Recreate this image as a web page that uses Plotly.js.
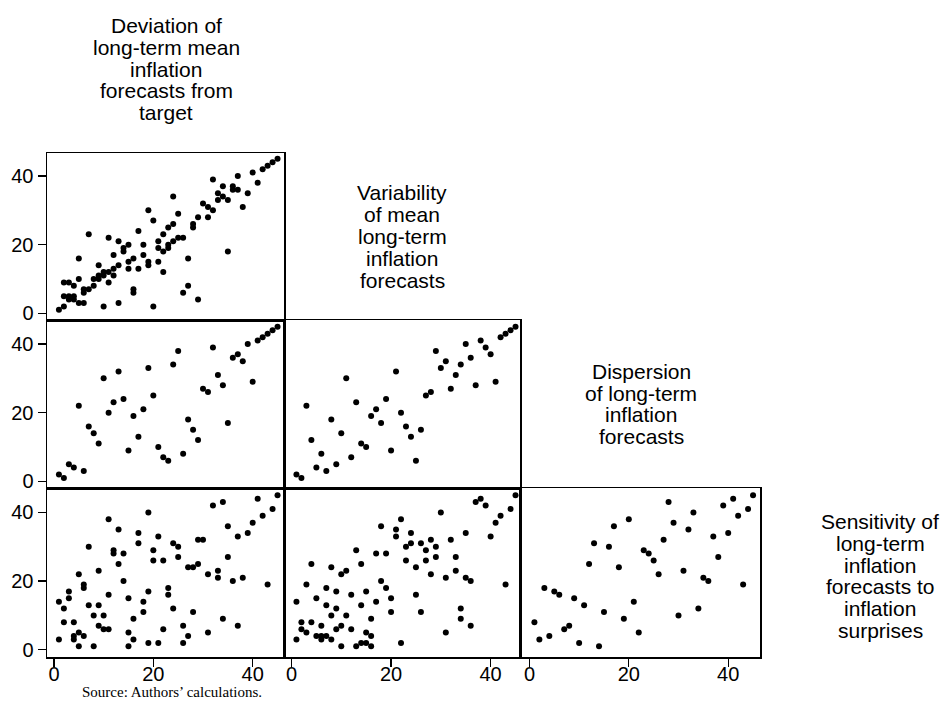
<!DOCTYPE html>
<html>
<head>
<meta charset="utf-8">
<script src="https://cdn.plot.ly/plotly-3.0.1.min.js"></script>
<style>html,body{margin:0;padding:0;background:#fff;}#chart{width:941px;height:713px;}</style>
</head>
<body>
<div id="chart"></div>
<script>
// Variable labels (diagonal)
const varLabels = [
  ["Deviation of", "long-term mean", "inflation", "forecasts from", "target"],
  ["Variability", "of mean", "long-term", "inflation", "forecasts"],
  ["Dispersion", "of long-term", "inflation", "forecasts"],
  ["Sensitivity of", "long-term", "inflation", "forecasts to", "inflation", "surprises"]
];
const tickValues = [0, 20, 40];
const tickLabels = ["0", "20", "40"];

// Row 1, col 1: deviation (x) vs variability (y)
const p11_x = [1,2,2,2,3,3,3,4,4,4,5,5,5,6,6,6,7,7,8,8,9,9,9,10,10,10,11,11,11,12,12,12,13,13,13,14,14,15,15,15,16,16,16,17,17,18,18,19,19,19,20,20,21,21,21,22,22,22,23,23,23,24,24,24,25,25,26,26,27,27,28,28,29,29,30,31,31,32,32,33,33,34,34,35,35,36,36,37,37,38,39,40,41,42,43,44,45];
const p11_y = [1,2,5,9,9,5,4,5,4,8,3,10,16,3,6,7,23,7,10,8,11,14,10,11,12,2,12,9,22,13,11,17,3,14,21,19,18,20,15,13,16,7,6,24,13,20,17,15,14,30,27,2,21,19,15,23,18,12,25,20,19,34,26,21,29,22,22,6,16,8,26,25,28,4,32,31,28,39,30,35,33,37,34,18,33,37,36,40,36,31,35,41,38,42,43,44,45];

// Row 2, col 1: deviation (x) vs dispersion (y)
const p21_x = [1,2,3,4,5,6,7,8,9,10,11,12,13,14,15,16,17,18,19,20,21,22,23,24,25,26,27,28,29,30,31,32,33,34,35,36,37,38,39,40,41,42,43,44,45];
const p21_y = [2,1,5,4,22,3,16,14,11,30,20,23,32,24,9,19,13,21,33,25,10,7,6,34,38,8,18,15,12,27,26,39,31,28,17,36,37,35,40,29,41,42,43,44,45];

// Row 2, col 2: variability (x) vs dispersion (y)
const p22_x = [1,2,3,4,5,6,7,8,9,10,11,12,13,14,15,16,17,18,19,20,21,22,23,24,25,26,27,28,29,30,31,32,33,34,35,36,37,38,39,40,41,42,43,44,45];
const p22_y = [2,1,22,12,4,8,3,18,5,14,30,7,23,11,10,19,21,17,24,9,32,20,16,13,6,15,25,26,38,33,35,27,31,34,40,36,28,41,39,37,29,42,43,44,45];

// Row 3, col 1: deviation (x) vs sensitivity (y)
const p31_x = [1,1,2,2,3,3,4,4,4,5,5,5,6,6,6,7,7,8,8,9,9,9,10,10,11,11,11,12,12,13,13,14,14,15,15,15,16,16,17,17,18,18,19,19,19,20,20,21,21,22,22,23,23,24,24,25,25,26,26,27,27,28,28,29,29,30,31,31,32,33,33,34,34,35,35,36,37,37,38,39,40,41,42,43,44,45];
const p31_y = [3,14,12,8,17,15,8,4,3,22,5,1,19,18,4,30,13,10,1,23,13,7,10,6,6,38,16,29,28,35,25,28,20,15,5,1,9,3,34,31,14,11,40,17,2,29,26,33,2,26,6,18,16,12,31,30,27,7,2,24,4,24,11,32,25,32,22,5,42,23,21,43,9,36,27,20,33,7,21,34,37,44,39,19,41,45];

// Row 3, col 2: variability (x) vs sensitivity (y)
const p32_x = [1,1,2,2,3,3,4,4,5,5,6,6,6,7,7,7,8,8,8,9,9,9,10,10,10,11,11,12,12,13,13,14,14,14,15,15,15,16,16,16,17,17,18,18,19,19,20,20,21,21,22,22,23,23,24,24,25,25,26,26,27,27,28,28,29,29,30,31,31,32,33,33,34,34,35,35,36,36,37,38,39,40,41,42,43,44,45];
const p32_y = [3,14,8,6,19,5,25,8,15,4,7,4,3,18,13,4,24,10,3,17,12,6,22,7,1,23,10,16,6,29,1,25,13,2,17,5,2,9,4,1,28,14,36,20,28,18,15,11,35,33,38,2,30,26,34,31,24,16,31,11,29,26,32,22,30,27,40,21,5,32,27,23,12,9,34,21,20,7,43,44,42,33,37,39,19,41,45];

// Row 3, col 3: dispersion (x) vs sensitivity (y)
const p33_x = [1,2,3,4,5,6,7,8,9,10,11,12,13,14,15,16,17,18,19,20,21,22,23,24,25,26,27,28,29,30,31,32,33,34,35,36,37,38,39,40,41,42,43,44,45];
const p33_y = [8,3,18,4,17,16,6,7,15,2,13,25,31,1,11,30,36,24,9,38,14,5,29,28,26,22,32,43,37,10,23,35,40,12,21,20,33,27,42,34,44,39,19,41,45];

const W = 941, H = 713;
const px = v => v / W;
const py = v => 1 - v / H;

// layout geometry (pixels)
const colPx = [[47, 284], [284, 520], [520, 760]];
const rowPx = [[153, 320], [320, 488], [488, 657]];
const colRange = [[-1.4, 46.3], [-1.5, 45.9], [-1.9, 46.4]];
const rowRange = [[-1.95, 46.7], [-1.95, 47.0], [-2.1, 47.1]];

const panels = [
  {r: 0, c: 0, x: p11_x, y: p11_y},
  {r: 1, c: 0, x: p21_x, y: p21_y},
  {r: 1, c: 1, x: p22_x, y: p22_y},
  {r: 2, c: 0, x: p31_x, y: p31_y},
  {r: 2, c: 1, x: p32_x, y: p32_y},
  {r: 2, c: 2, x: p33_x, y: p33_y}
];

const tickFont = {family: "Liberation Sans, Arial, sans-serif", size: 20, color: "#000"};
const layout = {
  width: W, height: H,
  margin: {l: 0, r: 0, t: 0, b: 0},
  paper_bgcolor: "#fff", plot_bgcolor: "#fff",
  showlegend: false,
  annotations: []
};
const data = [];

panels.forEach((p, i) => {
  const n = i === 0 ? "" : String(i + 1);
  const xa = "xaxis" + n, ya = "yaxis" + n;
  const showX = p.r === 2;
  const showY = p.c === 0;
  layout[xa] = {
    domain: [px(colPx[p.c][0]), px(colPx[p.c][1])],
    range: colRange[p.c],
    anchor: "y" + n,
    showgrid: false, zeroline: false,
    showline: true, mirror: true, linecolor: "#000", linewidth: 1.5,
    ticks: showX ? "outside" : "", ticklen: 8, tickwidth: 1.2, tickcolor: "#000",
    tickvals: tickValues, ticktext: tickLabels,
    showticklabels: showX, tickfont: tickFont,
    ticklabelstandoff: -10
  };
  layout[ya] = {
    domain: [py(rowPx[p.r][1]), py(rowPx[p.r][0])],
    range: rowRange[p.r],
    anchor: "x" + n,
    showgrid: false, zeroline: false,
    showline: true, mirror: true, linecolor: "#000", linewidth: 1.5,
    ticks: showY ? "outside" : "", ticklen: 8, tickwidth: 1.2, tickcolor: "#000",
    tickvals: tickValues, ticktext: tickLabels,
    showticklabels: showY, tickfont: tickFont
  };
  data.push({
    type: "scatter", mode: "markers",
    x: p.x, y: p.y,
    xaxis: "x" + n, yaxis: "y" + n,
    marker: {color: "#000", size: 6},
    hoverinfo: "x+y"
  });
});

// diagonal labels: centre of each diagonal cell
const diagCentres = [[166, 69], [402, 236.5], [641, 404], [880, 576]];
const lineGap = 21.8;
varLabels.forEach((lines, k) => {
  const [cx, cy] = diagCentres[k];
  const start = cy - (lines.length - 1) * lineGap / 2;
  lines.forEach((t, j) => {
    layout.annotations.push({
      text: t, xref: "paper", yref: "paper",
      x: px(cx), y: py(start + j * lineGap),
      xanchor: "center", yanchor: "middle", showarrow: false,
      font: {family: "Liberation Sans, Arial, sans-serif", size: 21, color: "#000"}
    });
  });
});

layout.annotations.push({
  text: "Source: Authors\u2019 calculations.", xref: "paper", yref: "paper",
  x: px(80), y: py(692), xanchor: "left", yanchor: "middle", showarrow: false,
  font: {family: "Liberation Serif, Times New Roman, serif", size: 15, color: "#000"}
});

Plotly.newPlot("chart", data, layout, {displayModeBar: false, staticPlot: true});
</script>
</body>
</html>
